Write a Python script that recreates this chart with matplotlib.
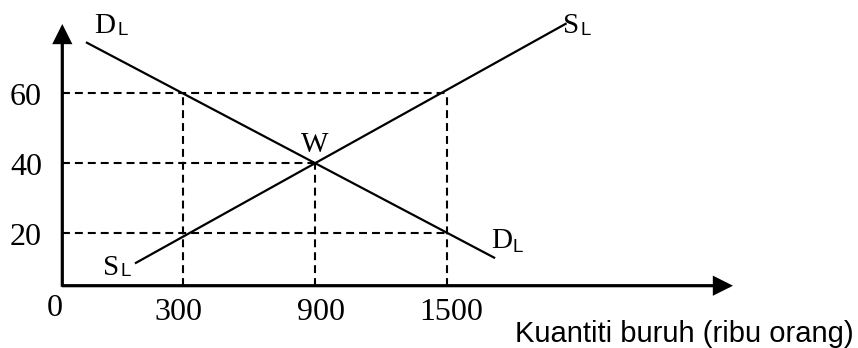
import matplotlib
matplotlib.use("Agg")
import matplotlib.pyplot as plt

# ---- data ----
wage_ticks = [20, 40, 60]
qty_ticks = [300, 900, 1500]
dl_x = [-140, 1720]
dl_y = [74.6, 12.9]
sl_x = [83, 2045]
sl_y = [11.4, 80.0]
eq_x, eq_y = 900, 40
xlabel = "Kuantiti buruh (ribu orang)"

# ---- layout (pixel <-> data mapping of the sketch) ----
W_PX, H_PX = 858, 348
X0_PX, XS = 116.7, 0.22       # pixel x of data 0, px per unit
Y0_PX, YS = 303.3, 3.5        # pixel y (from top) of data 0, px per unit
qty_label_shift_px = [-4, 6.5, 4]


def dx(px):
    return (px - X0_PX) / XS


def dy(py):
    return (Y0_PX - py) / YS


fig = plt.figure(figsize=(W_PX / 100, H_PX / 100), dpi=100)
ax = fig.add_axes([0, 0, 1, 1])
ax.set_xlim(dx(0), dx(W_PX))
ax.set_ylim(dy(H_PX), dy(0))
ax.axis("off")

axis_x = dx(62.3)
axis_y = dy(285.7)
x_tip = dx(733)
y_tip = dy(24)

arrow_kw = dict(arrowstyle="-|>", lw=2.3, color="black", mutation_scale=27,
                shrinkA=0, shrinkB=0, joinstyle="miter", capstyle="butt")
ax.annotate("", xy=(x_tip, axis_y), xytext=(axis_x - 3, axis_y), arrowprops=arrow_kw)
ax.annotate("", xy=(axis_x, y_tip), xytext=(axis_x, axis_y - 0.3), arrowprops=arrow_kw)

# dashed guide lines
dash = dict(color="black", lw=1.5, linestyle=(0, (3.8, 2.4)))
ax.plot([axis_x, qty_ticks[2]], [wage_ticks[2]] * 2, **dash)
ax.plot([axis_x, eq_x], [eq_y] * 2, **dash)
ax.plot([axis_x, qty_ticks[2]], [wage_ticks[0]] * 2, **dash)
ax.plot([qty_ticks[0]] * 2, [axis_y, wage_ticks[2]], **dash)
ax.plot([eq_x] * 2, [axis_y, eq_y], **dash)
ax.plot([qty_ticks[2]] * 2, [axis_y, wage_ticks[2]], **dash)

# curves
ax.plot(dl_x, dl_y, color="black", lw=1.6, solid_capstyle="butt")
ax.plot(sl_x, sl_y, color="black", lw=1.6, solid_capstyle="butt")

serif = "Liberation Serif"
sans = "Liberation Sans"
FS_NUM = 23
FS_LET = 21

# tick labels
for v in wage_ticks:
    ax.text(dx(42), v - 11.5 / YS, str(v), family=serif, fontsize=FS_NUM,
            ha="right", va="baseline")
for v, sh in zip(qty_ticks, qty_label_shift_px):
    ax.text(v + sh / XS, dy(320), str(v), family=serif, fontsize=FS_NUM,
            ha="center", va="baseline")
ax.text(dx(55), dy(316), "0", family=serif, fontsize=FS_NUM, ha="center", va="baseline")


def sub_label(main, sub, left, base, sub_left, sub_base):
    ax.text(dx(left), dy(base), main, family=serif, fontsize=FS_LET,
            ha="left", va="baseline")
    ax.text(dx(sub_left), dy(sub_base), sub, family=sans, fontsize=13.5,
            ha="left", va="baseline")


sub_label("D", "L", 94, 33, 117, 35)
sub_label("S", "L", 103, 275, 120, 276)
sub_label("S", "L", 563, 33, 580, 35)
sub_label("D", "L", 491, 248, 513, 252)
ax.text(eq_x - 1, dy(152), "W", family=serif, fontsize=FS_LET, ha="center", va="baseline")

fig.text(515 / W_PX, 1 - 342 / H_PX, xlabel, family=sans, fontsize=21,
         ha="left", va="baseline")

fig.savefig("out.png", dpi=100)
